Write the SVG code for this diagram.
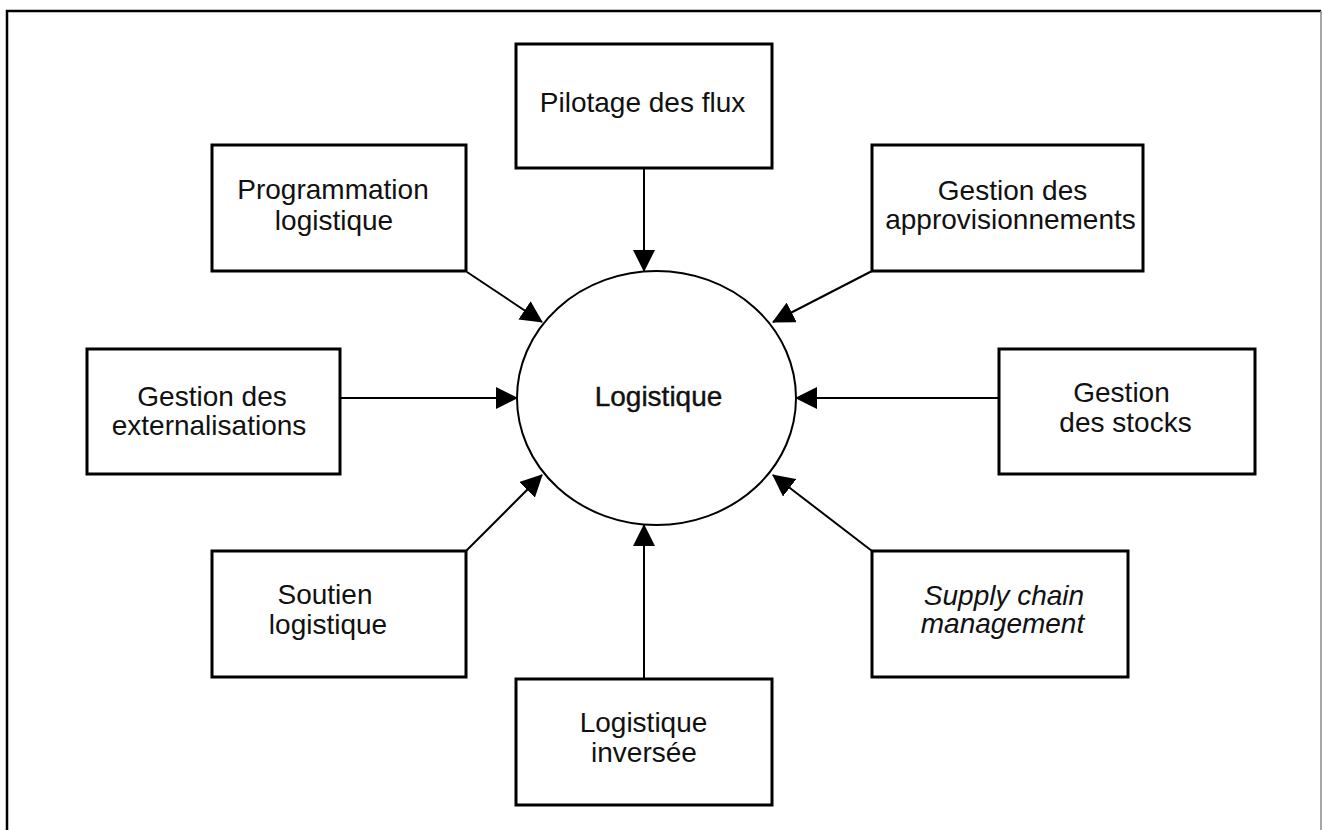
<svg xmlns="http://www.w3.org/2000/svg" width="1322" height="830" viewBox="0 0 1322 830">
<style>
.box{fill:#fff;stroke:#000;stroke-width:3}
.lbl{font-family:"Liberation Sans",Arial,sans-serif;font-size:28px;fill:#111;text-anchor:middle}
.it{font-style:italic}
.con{stroke:#000;stroke-width:2;fill:none;marker-end:url(#ah)}
</style>
<defs>
<marker id="ah" markerUnits="userSpaceOnUse" markerWidth="22" markerHeight="22" viewBox="0 0 22 22" refX="21" refY="11" orient="auto">
<path d="M0,0 L22,11 L0,22 Z" fill="#000"/>
</marker>
</defs>
<rect width="1322" height="830" fill="#fff"/>
<g id="frame">
<path d="M7,830 V11 H1321" fill="none" stroke="#000" stroke-width="2.5"/>
<path d="M1321,11 V830" fill="none" stroke="#888" stroke-width="1.5"/>
</g>
<g id="connectors">
<line class="con" x1="644" y1="168" x2="644" y2="271"/>
<line class="con" x1="467" y1="272" x2="542" y2="322"/>
<line class="con" x1="872" y1="271" x2="773" y2="322"/>
<line class="con" x1="340" y1="398" x2="517" y2="398"/>
<line class="con" x1="999" y1="398" x2="796" y2="398"/>
<line class="con" x1="466" y1="551" x2="542" y2="475"/>
<line class="con" x1="872" y1="551" x2="773" y2="475"/>
<line class="con" x1="644" y1="679" x2="644" y2="525"/>
</g>
<g id="logistique">
<ellipse cx="656.5" cy="398" rx="139.5" ry="127" fill="#fff" stroke="#000" stroke-width="2"/>
<text class="lbl" x="658.5" y="406" stroke="#111" stroke-width="0.4">Logistique</text>
</g>
<g id="pilotage">
<rect class="box" x="516" y="44" width="256" height="124"/>
<text class="lbl" x="642.5" y="112">Pilotage des flux</text>
</g>
<g id="programmation">
<rect class="box" x="212" y="145" width="254" height="126"/>
<text class="lbl" x="333" y="199">Programmation</text>
<text class="lbl" x="334" y="230">logistique</text>
</g>
<g id="approvisionnements">
<rect class="box" x="872" y="145" width="271" height="126"/>
<text class="lbl" x="1012.5" y="200">Gestion des</text>
<text class="lbl" x="1010.5" y="229">approvisionnements</text>
</g>
<g id="externalisations">
<rect class="box" x="87" y="349" width="253" height="125"/>
<text class="lbl" x="212" y="406">Gestion des</text>
<text class="lbl" x="209" y="435">externalisations</text>
</g>
<g id="stocks">
<rect class="box" x="999" y="349" width="256" height="125"/>
<text class="lbl" x="1121.5" y="402">Gestion</text>
<text class="lbl" x="1125.5" y="432">des stocks</text>
</g>
<g id="soutien">
<rect class="box" x="212" y="551" width="254" height="126"/>
<text class="lbl" x="325" y="604">Soutien</text>
<text class="lbl" x="328" y="634">logistique</text>
</g>
<g id="supply">
<rect class="box" x="872" y="551" width="256" height="126"/>
<text class="lbl it" x="1004" y="605">Supply chain</text>
<text class="lbl it" x="1002.5" y="633">management</text>
</g>
<g id="inversee">
<rect class="box" x="516" y="679" width="256" height="126"/>
<text class="lbl" x="643.5" y="732">Logistique</text>
<text class="lbl" x="644" y="762">inversée</text>
</g>
</svg>
